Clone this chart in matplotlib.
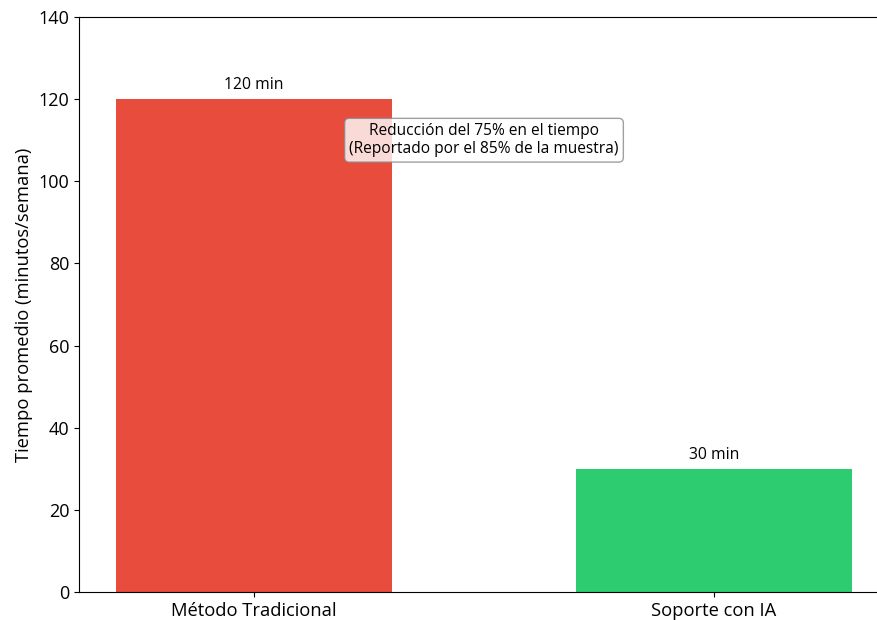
import matplotlib

matplotlib.use("Agg")
import matplotlib.pyplot as plt

plt.rcParams["font.family"] = ["Open Sans", "DejaVu Sans"]

categories = ["Método Tradicional", "Soporte con IA"]
values = [120, 30]
bar_colors = ["#e74c3c", "#2ecc71"]
value_labels = ["120 min", "30 min"]
note = "Reducción del 75% en el tiempo\n(Reportado por el 85% de la muestra)"

fig = plt.figure(figsize=(8.78, 6.2), dpi=100)
ax = fig.add_axes([79 / 878, 28 / 620, 810 / 878, 575 / 620])

x = range(len(categories))
bars = ax.bar(x, values, width=0.6, color=bar_colors)

for b, lab in zip(bars, value_labels):
    ax.text(b.get_x() + b.get_width() / 2, b.get_height() + 1.5, lab,
            ha="center", va="bottom", fontsize=11.3)

ax.text(0.5, 110, note, ha="center", va="center", fontsize=11.2,
        bbox=dict(boxstyle="round,pad=0.3", fc="white", ec="#888888", alpha=0.8))

ax.spines["right"].set_visible(False)
ax.set_xticks(list(x))
ax.set_xticklabels(categories, fontsize=13.2)
ax.set_xlim(-0.38, 1.38)
ax.set_ylim(0, 140)
ax.set_yticks(range(0, 141, 20))
ax.tick_params(axis="y", labelsize=13)
ax.set_ylabel("Tiempo promedio (minutos/semana)", fontsize=13.2)

fig.savefig("out.png", dpi=100)
